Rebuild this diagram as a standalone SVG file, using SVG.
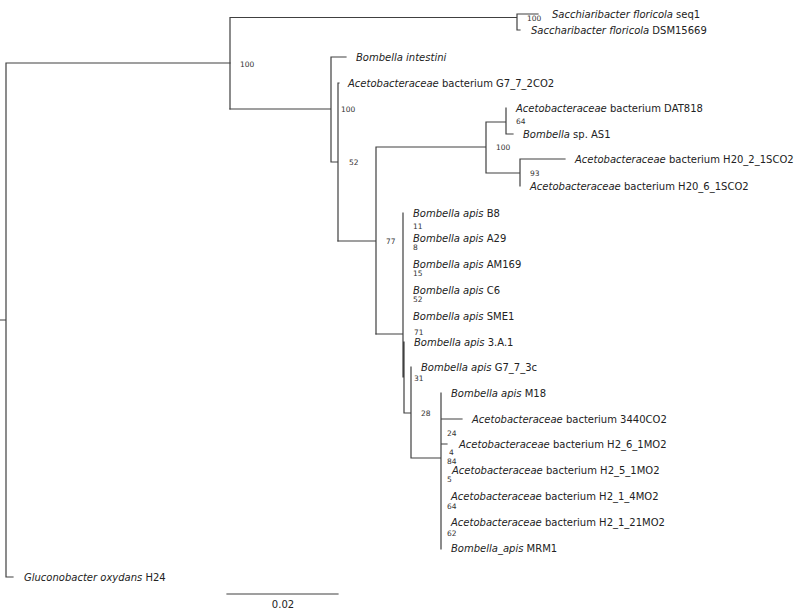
<svg xmlns="http://www.w3.org/2000/svg" width="799" height="609" viewBox="0 0 799 609">
<style>
.e{stroke:#404040;stroke-width:1.2;fill:none;stroke-linecap:square}
.t{font-family:"DejaVu Sans",Verdana,sans-serif;font-size:10px;fill:#222}
.i{font-style:italic}
.s{font-family:"DejaVu Sans",Verdana,sans-serif;font-size:7.5px;fill:#333}
</style>
<rect width="799" height="609" fill="#fff"/>
<g id="connectors">
<path class="e" d="M0,320H6M6,63V577M6,63H230M6,577H13"/>
<path class="e" d="M230,17.5V109M230,17.5H517M517,14V30M517,14H538M517,30H520"/>
<path class="e" d="M230,109H331M331,57V162M331,57H346M331,162H338M338,83V241M338,83H339"/>
<path class="e" d="M338,241H376M376,147V334M376,147H486M486,122V173M486,122H506M506,108V134M506,134H513M486,173H520M520,159V186M520,159H565"/>
<path class="e" d="M376,334H403M403,213V377M404,342V413M404,413H411M411,367V458M411,458H441M441,393V549M441,419H462M441,444H447"/>
<path class="e" d="M227,594H338"/>
</g>
<g id="leaves">
<g id="n1"><text class="t" x="552" y="18"><tspan class="i">Sacchiaribacter floricola</tspan> seq1</text></g>
<g id="n2"><text class="t" x="531" y="34"><tspan class="i">Saccharibacter floricola</tspan> DSM15669</text></g>
<g id="n3"><text class="t" x="356" y="61"><tspan class="i">Bombella intestini</tspan></text></g>
<g id="n4"><text class="t" x="348" y="87"><tspan class="i">Acetobacteraceae</tspan> bacterium G7_7_2CO2</text></g>
<g id="n5"><text class="t" x="516" y="112"><tspan class="i">Acetobacteraceae</tspan> bacterium DAT818</text></g>
<g id="n6"><text class="t" x="523" y="138"><tspan class="i">Bombella</tspan> sp. AS1</text></g>
<g id="n7"><text class="t" x="575" y="163"><tspan class="i">Acetobacteraceae</tspan> bacterium H20_2_1SCO2</text></g>
<g id="n8"><text class="t" x="530" y="190"><tspan class="i">Acetobacteraceae</tspan> bacterium H20_6_1SCO2</text></g>
<g id="n9"><text class="t" x="413" y="217"><tspan class="i">Bombella apis</tspan> B8</text></g>
<g id="n10"><text class="t" x="413" y="242"><tspan class="i">Bombella apis</tspan> A29</text></g>
<g id="n11"><text class="t" x="413" y="268"><tspan class="i">Bombella apis</tspan> AM169</text></g>
<g id="n12"><text class="t" x="413" y="294"><tspan class="i">Bombella apis</tspan> C6</text></g>
<g id="n13"><text class="t" x="413" y="320"><tspan class="i">Bombella apis</tspan> SME1</text></g>
<g id="n14"><text class="t" x="414" y="346"><tspan class="i">Bombella apis</tspan> 3.A.1</text></g>
<g id="n15"><text class="t" x="421" y="371"><tspan class="i">Bombella apis</tspan> G7_7_3c</text></g>
<g id="n16"><text class="t" x="451" y="397"><tspan class="i">Bombella apis</tspan> M18</text></g>
<g id="n17"><text class="t" x="472" y="423"><tspan class="i">Acetobacteraceae</tspan> bacterium 3440CO2</text></g>
<g id="n18"><text class="t" x="459" y="448"><tspan class="i">Acetobacteraceae</tspan> bacterium H2_6_1MO2</text></g>
<g id="n19"><text class="t" x="452" y="474"><tspan class="i">Acetobacteraceae</tspan> bacterium H2_5_1MO2</text></g>
<g id="n20"><text class="t" x="451" y="500"><tspan class="i">Acetobacteraceae</tspan> bacterium H2_1_4MO2</text></g>
<g id="n21"><text class="t" x="451" y="526"><tspan class="i">Acetobacteraceae</tspan> bacterium H2_1_21MO2</text></g>
<g id="n22"><text class="t" x="451" y="552"><tspan class="i">Bombella_apis</tspan> MRM1</text></g>
<g id="n23"><text class="t" x="24" y="581"><tspan class="i">Gluconobacter oxydans</tspan> H24</text></g>
</g>
<g id="support">
<text class="s" x="240" y="67">100</text>
<text class="s" x="527" y="21">100</text>
<text class="s" x="341" y="112">100</text>
<text class="s" x="349" y="165">52</text>
<text class="s" x="496" y="150">100</text>
<text class="s" x="516" y="124">64</text>
<text class="s" x="530" y="176">93</text>
<text class="s" x="386" y="244">77</text>
<text class="s" x="413" y="229">11</text>
<text class="s" x="413" y="250">8</text>
<text class="s" x="413" y="276">15</text>
<text class="s" x="413" y="302">52</text>
<text class="s" x="414" y="334.5">71</text>
<text class="s" x="414" y="381">31</text>
<text class="s" x="421" y="416">28</text>
<text class="s" x="447" y="436">24</text>
<text class="s" x="449" y="455">4</text>
<text class="s" x="447" y="464">84</text>
<text class="s" x="447" y="482">5</text>
<text class="s" x="447" y="509">64</text>
<text class="s" x="447" y="536">62</text>
</g>
<g id="scale"><text class="t" x="283" y="608" text-anchor="middle">0.02</text></g>
</svg>
